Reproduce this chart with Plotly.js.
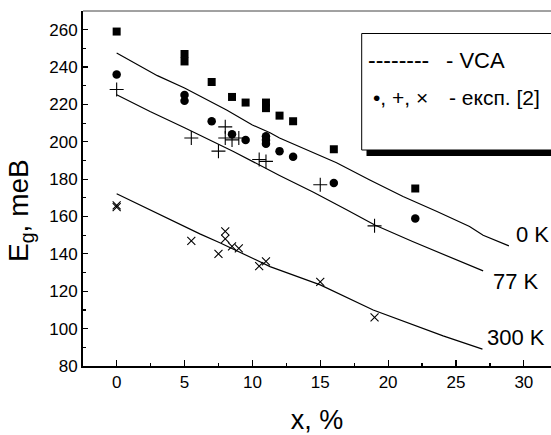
<!DOCTYPE html>
<html>
<head>
<meta charset="utf-8">
<script src="https://cdn.plot.ly/plotly-3.0.1.min.js"></script>
<style>html,body{margin:0;padding:0;background:#fff;}#chart{width:551px;height:435px;}</style>
</head>
<body>
<div id="chart"></div>
<script>
// VCA curves
const x0K = [0, 3, 5, 6.6, 8.1, 10, 11.3, 12, 14.5, 16.2, 18.65, 21.1, 23.6, 26, 27, 28.9];
const e0K = [247.5, 235.4, 228.8, 222.5, 217, 209, 204.8, 202, 194, 188.8, 179.6, 170.7, 162.7, 154.7, 150, 144.3];
const x77K = [0, 2.46, 5, 8.6, 12, 14.5, 16.94, 19.02, 21.8, 24.5, 27];
const e77K = [225.2, 216.2, 207.5, 194.8, 182, 173, 163.6, 155.5, 146.6, 138.6, 130.9];
const x300K = [0, 6.13, 7.6, 11.3, 15, 17.2, 18.9, 24.05, 26.95];
const e300K = [172.2, 150.7, 146, 133.2, 123.4, 115.9, 110, 96.1, 89];

// experimental points
const xSq = [0, 5, 5, 7, 8.5, 9.5, 11, 11, 12, 13, 16, 22];
const eSq = [259, 247, 243, 232, 224, 221, 221, 218, 214, 211, 196, 175];
const xCirc = [0, 5, 5, 7, 8.5, 9.5, 11, 11, 11, 12, 13, 16, 22];
const eCirc = [236, 225, 222, 211, 204, 201, 203, 201, 199, 195, 192, 178, 159];
const xPlus = [0, 5.5, 7.5, 8, 8, 8.5, 9, 10.5, 11, 15, 19];
const ePlus = [228, 202, 195, 208, 202, 201, 202, 190.5, 189.5, 177, 155];
const xCross = [0, 0, 5.5, 7.5, 8, 8, 8.5, 9, 10.5, 11, 15, 19];
const eCross = [166, 165, 147, 140, 152, 148, 144, 143, 133.5, 136, 125, 106];

const curveLabels = ['0 K', '77 K', '300 K'];
const legendTexts = ['--------', '- VCA', '\u2022, +, \u00d7', '- експ. [2]'];
const xTicks = [0, 5, 10, 15, 20, 25, 30];
const yTicks = [80, 100, 120, 140, 160, 180, 200, 220, 240, 260];

const FONT = "'Liberation Sans', Arial, sans-serif";
const lineStyle = {color: '#000', width: 1.2};

const traces = [
  {x: x0K, y: e0K, mode: 'lines', line: lineStyle},
  {x: x77K, y: e77K, mode: 'lines', line: lineStyle},
  {x: x300K, y: e300K, mode: 'lines', line: lineStyle},
  {x: xSq, y: eSq, mode: 'markers', marker: {symbol: 'square', size: 8, color: '#000'}},
  {x: xCirc, y: eCirc, mode: 'markers', marker: {symbol: 'circle', size: 8.5, color: '#000'}},
  {x: xPlus, y: ePlus, mode: 'markers', marker: {symbol: 'cross-thin-open', size: 10, color: '#000', line: {color: '#000', width: 1.1}}},
  {x: xCross, y: eCross, mode: 'markers', marker: {symbol: 'x-thin-open', size: 8, color: '#000', line: {color: '#000', width: 1.1}}}
];

function px2px(px){ return (px - 83) / 468; }
function py2py(py){ return (366 - py) / 355; }

const annotations = [
  {x: 29.3, y: 150.2, xref: 'x', yref: 'y', text: curveLabels[0], xanchor: 'left', yanchor: 'middle', showarrow: false, font: {family: FONT, size: 22, color: '#000'}},
  {x: 27.6, y: 125.2, xref: 'x', yref: 'y', text: curveLabels[1], xanchor: 'left', yanchor: 'middle', showarrow: false, font: {family: FONT, size: 22, color: '#000'}},
  {x: 27.15, y: 95, xref: 'x', yref: 'y', text: curveLabels[2], xanchor: 'left', yanchor: 'middle', showarrow: false, font: {family: FONT, size: 22, color: '#000'}},
  {x: px2px(366), y: py2py(60), xref: 'paper', yref: 'paper', text: legendTexts[0], xanchor: 'left', yanchor: 'middle', showarrow: false, font: {family: FONT, size: 23, color: '#000'}},
  {x: px2px(444), y: py2py(60), xref: 'paper', yref: 'paper', text: legendTexts[1], xanchor: 'left', yanchor: 'middle', showarrow: false, font: {family: FONT, size: 22, color: '#000'}},
  {x: px2px(371), y: py2py(97), xref: 'paper', yref: 'paper', text: legendTexts[2], xanchor: 'left', yanchor: 'middle', showarrow: false, font: {family: FONT, size: 21, color: '#000'}},
  {x: px2px(447), y: py2py(97), xref: 'paper', yref: 'paper', text: legendTexts[3], xanchor: 'left', yanchor: 'middle', showarrow: false, font: {family: FONT, size: 21, color: '#000'}},
  {x: px2px(20), y: py2py(211), xref: 'paper', yref: 'paper', text: 'E<sub>g</sub>, meB', textangle: -90, xanchor: 'center', yanchor: 'middle', showarrow: false, font: {family: FONT, size: 28, color: '#000'}}
];

const shapes = [
  {type: 'line', xref: 'paper', yref: 'paper', x0: 0, x1: 1, y0: 1, y1: 1, line: {color: '#444', width: 1}},
  {type: 'rect', xref: 'paper', yref: 'paper', x0: px2px(366.5), x1: 1.02, y0: py2py(156), y1: py2py(150), fillcolor: '#000', line: {width: 0}},
  {type: 'rect', xref: 'paper', yref: 'paper', x0: px2px(361.7), x1: 1.02, y0: py2py(150), y1: py2py(33.5), fillcolor: '#fff', line: {color: '#000', width: 1}}
];

const layout = {
  width: 551, height: 435,
  margin: {l: 83, r: 0, t: 11, b: 69, pad: 0},
  paper_bgcolor: '#fff', plot_bgcolor: '#fff',
  showlegend: false,
  font: {family: FONT, color: '#000'},
  xaxis: {
    range: [-2.48, 32], tickvals: xTicks, ticktext: xTicks.map(String),
    ticks: 'inside', ticklen: 6, tickwidth: 1.2, tickcolor: '#000',
    minor: {dtick: 2.5, tick0: 0, ticks: 'inside', ticklen: 3, tickwidth: 1.2, tickcolor: '#000'},
    showline: true, linecolor: '#000', linewidth: 2, showgrid: false, zeroline: false,
    tickfont: {family: FONT, size: 17, color: '#000'},
    title: {text: 'x, %', font: {family: FONT, size: 27, color: '#000'}, standoff: 20}
  },
  yaxis: {
    range: [80, 270], tickvals: yTicks, ticktext: yTicks.map(String),
    ticks: 'inside', ticklen: 5, tickwidth: 1.2, tickcolor: '#000',
    minor: {dtick: 10, tick0: 0, ticks: 'inside', ticklen: 3, tickwidth: 1.2, tickcolor: '#000'},
    showline: true, linecolor: '#000', linewidth: 2, showgrid: false, zeroline: false,
    tickfont: {family: FONT, size: 17, color: '#000'}
  },
  annotations: annotations,
  shapes: shapes
};

Plotly.newPlot('chart', traces, layout, {displayModeBar: false, staticPlot: true});
</script>
</body>
</html>
